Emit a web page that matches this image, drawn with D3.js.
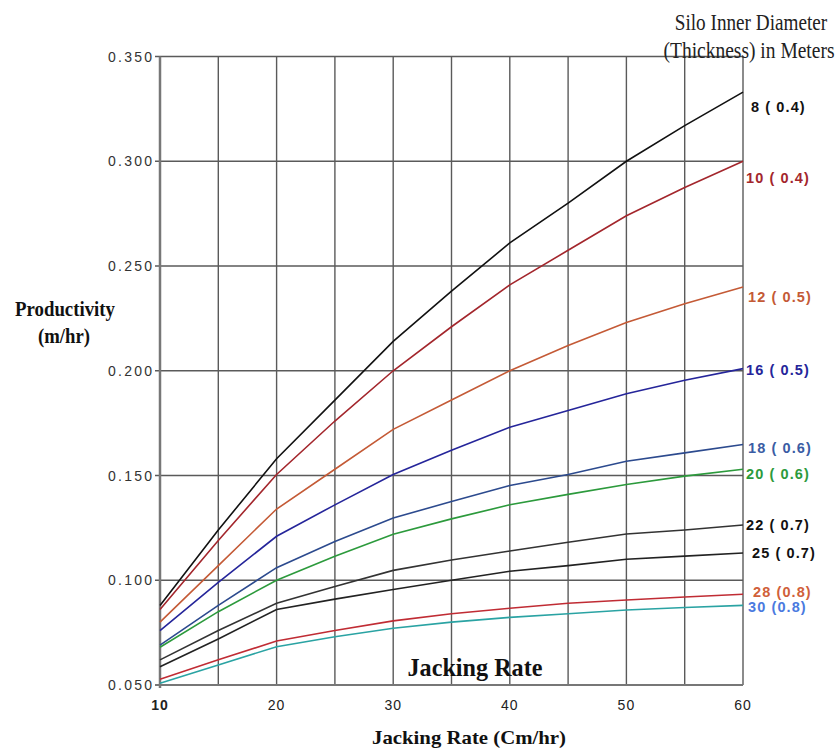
<!DOCTYPE html>
<html><head><meta charset="utf-8">
<script src="https://cdn.jsdelivr.net/npm/d3@7"></script>
<style>body{margin:0;background:#fff}</style>
</head><body>
<svg id="c" width="839" height="751"></svg>
<script>
const jackingRates = [10,15,20,25,30,35,40,45,50,55,60];
const seriesNames = ["8 ( 0.4)","10 ( 0.4)","12 ( 0.5)","16 ( 0.5)","18 ( 0.6)","20 ( 0.6)","22 ( 0.7)","25 ( 0.7)","28 (0.8)","30 (0.8)"];
const s8  = [0.088,0.124,0.158,0.186,0.214,0.238,0.261,0.280,0.300,0.317,0.333];
const s10 = [0.086,0.119,0.1505,0.176,0.200,0.221,0.241,0.2575,0.274,0.2875,0.300];
const s12 = [0.080,0.107,0.134,0.153,0.172,0.186,0.200,0.212,0.223,0.232,0.240];
const s16 = [0.076,0.099,0.121,0.136,0.1505,0.162,0.173,0.181,0.189,0.1955,0.201];
const s18 = [0.069,0.088,0.106,0.1185,0.1297,0.1376,0.1452,0.1505,0.1568,0.1608,0.1648];
const s20 = [0.068,0.085,0.100,0.1115,0.122,0.1293,0.136,0.141,0.1457,0.1497,0.153];
const s22 = [0.062,0.076,0.089,0.097,0.1047,0.1097,0.114,0.1181,0.1221,0.124,0.1264];
const s25 = [0.0587,0.072,0.086,0.091,0.0956,0.100,0.1043,0.107,0.110,0.1115,0.113];
const s28 = [0.0527,0.062,0.071,0.076,0.0806,0.084,0.0866,0.089,0.0906,0.092,0.0933];
const s30 = [0.0508,0.0596,0.0683,0.073,0.0771,0.080,0.0823,0.084,0.0858,0.087,0.088];
const seriesValues = [s8,s10,s12,s16,s18,s20,s22,s25,s28,s30];
const yTicks = [0.05,0.10,0.15,0.20,0.25,0.30,0.35];
const xTickLabels = [10,20,30,40,50,60];

const lineColors  = ["#111111","#a3262c","#c45a36","#25259a","#2c4a8e","#2c9a3c","#333333","#222222","#c02c34","#2aa3a3"];
const labelColors = ["#111111","#a3262c","#c45a36","#25259a","#3a5ca4","#2c9a3c","#111111","#111111","#d0603a","#4a7ae0"];
const labelDx = [8,3,5,3,5,3,3,9,10,5];
const labelDy = [15,17,10,1,3.5,5,0,0,-2,2];

const svg = d3.select("#c");
const L=160, R=743, T=56.5, B=685;
const x = d3.scaleLinear().domain([10,60]).range([L,R]);
const y = d3.scaleLinear().domain([0.05,0.35]).range([B,T]);

const gridColor = "#5a5a5a";
svg.append("g").selectAll("line").data(d3.range(10,61,5)).join("line")
  .attr("x1",d=>x(d)).attr("x2",d=>x(d)).attr("y1",T).attr("y2",B)
  .attr("stroke",gridColor).attr("stroke-width",1.4);
svg.append("g").selectAll("line").data(yTicks).join("line")
  .attr("x1",L-5).attr("x2",R).attr("y1",d=>y(d)).attr("y2",d=>y(d))
  .attr("stroke",gridColor).attr("stroke-width",1.4);
svg.append("line").attr("x1",L).attr("x2",L).attr("y1",T).attr("y2",B+3)
  .attr("stroke","#777").attr("stroke-width",2.5);
svg.append("line").attr("x1",L-5).attr("x2",R).attr("y1",B).attr("y2",B)
  .attr("stroke","#777").attr("stroke-width",2);

const sans = "Liberation Sans, Arial, sans-serif";
svg.append("g").selectAll("text").data(yTicks).join("text")
  .attr("x",L-8).attr("y",d=>y(d)+5).attr("text-anchor","end")
  .attr("font-family",sans).attr("font-size",14)
  .attr("textLength",44).attr("lengthAdjust","spacing")
  .attr("fill","#333").text(d=>d3.format(".3f")(d));
svg.append("g").selectAll("text").data(xTickLabels).join("text")
  .attr("x",d=>x(d)).attr("y",710).attr("text-anchor","middle")
  .attr("font-family",sans).attr("font-size",14).attr("letter-spacing",1)
  .attr("font-weight",(d,i)=>i===0?"bold":"normal")
  .attr("fill","#222").text(d=>d);

const line = d3.line().x((d,i)=>x(jackingRates[i])).y(d=>y(d));
svg.append("g").selectAll("path").data(seriesValues).join("path")
  .attr("d",d=>line(d)).attr("fill","none")
  .attr("stroke",(d,i)=>lineColors[i]).attr("stroke-width",1.6);

svg.append("g").selectAll("text").data(seriesValues).join("text")
  .attr("x",(d,i)=>R+labelDx[i]).attr("y",(d,i)=>y(d[d.length-1])+5+labelDy[i])
  .attr("font-family",sans).attr("font-size",14.5).attr("letter-spacing",1.1)
  .attr("font-weight","bold").attr("fill",(d,i)=>labelColors[i])
  .text((d,i)=>seriesNames[i]);

const serif = "Liberation Serif, Times New Roman, serif";
svg.append("text").attr("transform","translate(751,30) scale(1,1.15)").attr("text-anchor","middle")
  .attr("font-family",serif).attr("font-size",19.2).attr("fill","#222").text("Silo Inner Diameter");
svg.append("text").attr("transform","translate(749,58) scale(1,1.15)").attr("text-anchor","middle")
  .attr("font-family",serif).attr("font-size",19.5).attr("fill","#222").text("(Thickness) in Meters");
svg.append("text").attr("x",65).attr("y",316).attr("text-anchor","middle")
  .attr("font-family",serif).attr("font-size",21).attr("font-weight","bold").attr("fill","#111")
  .attr("textLength",100).attr("lengthAdjust","spacingAndGlyphs").text("Productivity");
svg.append("text").attr("x",64).attr("y",343).attr("text-anchor","middle")
  .attr("font-family",serif).attr("font-size",21).attr("font-weight","bold").attr("fill","#111")
  .attr("textLength",52).attr("lengthAdjust","spacingAndGlyphs").text("(m/hr)");
svg.append("text").attr("x",475).attr("y",676).attr("text-anchor","middle")
  .attr("font-family",serif).attr("font-size",25).attr("font-weight","bold").attr("fill","#111")
  .attr("textLength",135).attr("lengthAdjust","spacingAndGlyphs").text("Jacking Rate");
svg.append("text").attr("x",469).attr("y",744).attr("text-anchor","middle")
  .attr("font-family",serif).attr("font-size",19).attr("font-weight","bold").attr("fill","#111")
  .attr("textLength",194).attr("lengthAdjust","spacingAndGlyphs").text("Jacking Rate (Cm/hr)");
</script>
</body></html>
